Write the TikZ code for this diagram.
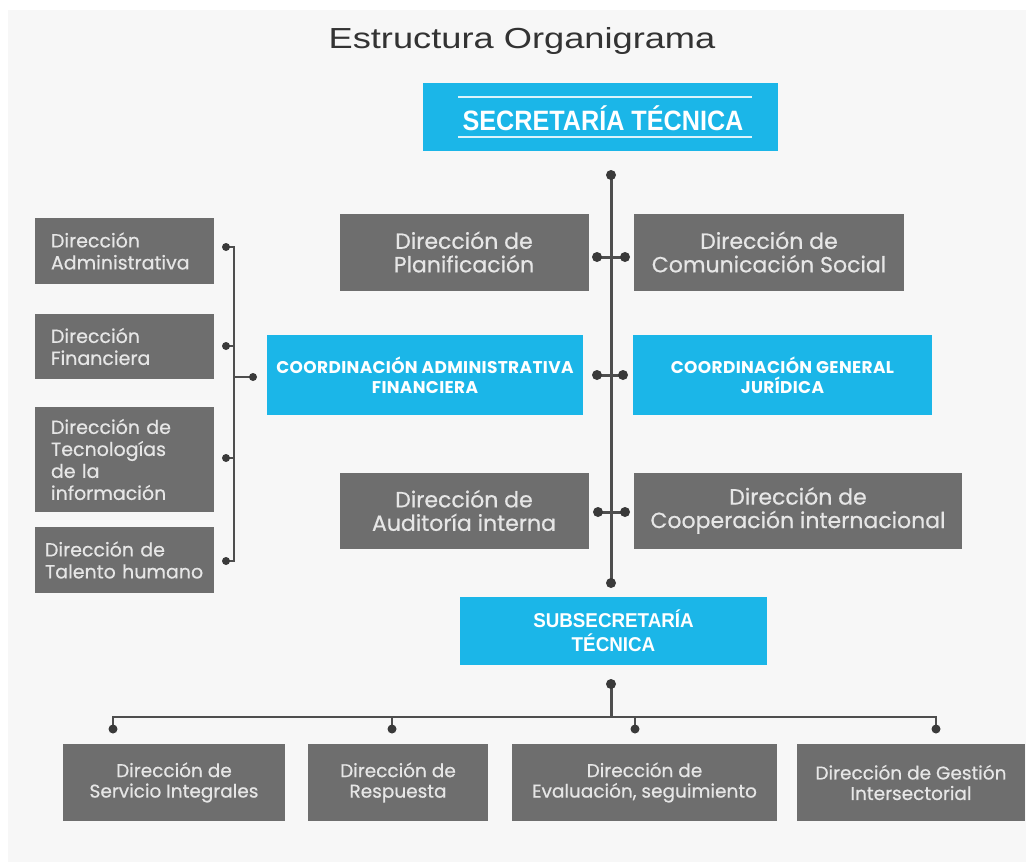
\documentclass[tikz,border=0pt]{standalone}
\usepackage{fontspec}
\usepackage{graphicx}
\newfontfamily\pop{Poppins}[FakeBold=0.6]
\newfontfamily\popb{Poppins}[LetterSpace=2]
\newfontfamily\arl{Liberation Sans}
\definecolor{bgc}{HTML}{F7F7F7}
\definecolor{boxgray}{HTML}{6E6E6E}
\definecolor{boxtext}{HTML}{E6E6E6}
\definecolor{cyanbox}{HTML}{1BB6E8}
\definecolor{linegray}{HTML}{4E4E4E}
\definecolor{dotgray}{HTML}{3A3A3A}
\definecolor{titlec}{HTML}{333333}
\tikzset{
  gbox/.style={fill=boxgray, text=boxtext, inner sep=0pt, align=center, font=\pop\fontsize{22}{23.5}\selectfont},
  lbox/.style={fill=boxgray, text=boxtext, inner ysep=0pt, align=left, font=\pop\fontsize{19}{22}\selectfont, minimum width=179pt},
  sbox/.style={fill=boxgray, text=boxtext, inner sep=0pt, align=center, font=\pop\fontsize{18.5}{20.5}\selectfont, minimum height=77pt},
  bbox/.style={fill=cyanbox, text=white, inner sep=0pt, align=center, font=\popb\bfseries\fontsize{17}{20}\selectfont},
  conn/.style={line width=3pt, draw=linegray},
  brk/.style={line width=2.5pt, draw=linegray},
  dotn/.style={circle, fill=dotgray, inner sep=0pt, minimum size=10pt},
}
\begin{document}
\begin{tikzpicture}[x=1pt,y=-1pt]
\useasboundingbox (0,0) rectangle (1026,865);
\fill[bgc] (8,10) rectangle (1026,862);
% title
\node[text=titlec, font=\arl\fontsize{29}{32}\selectfont] (title) at (522,41) {\scalebox{1.25}[1]{Estructura Organigrama}};
% top box
\node[fill=cyanbox, minimum width=355pt, minimum height=68pt, inner sep=0pt] (sec) at (600.5,117) {};
\draw[white!85!cyanbox, line width=2pt] ([xshift=35pt,yshift=-14pt]sec.north west) coordinate (l1a) -- ([xshift=-26pt,yshift=-14pt]sec.north east) coordinate (l1b);
\draw[white!85!cyanbox, line width=2pt] ([xshift=35pt,yshift=14pt]sec.south west) coordinate (l2a) -- ([xshift=-26pt,yshift=14pt]sec.south east) coordinate (l2b);
\node[text=white, font=\arl\bfseries\fontsize{28}{30}\selectfont] (sectext) at (603,118) {\scalebox{0.9}[1]{SECRETARÍA TÉCNICA}};
% middle boxes
\node[gbox, minimum width=249pt, minimum height=77pt] (plan) at (464,252) {Dirección de\\Planificación};
\node[gbox, minimum width=270pt, minimum height=77pt] (com) at (769,252) {Dirección de\\Comunicación Social};
\node[bbox, minimum width=316pt, minimum height=80pt] (caf) at (425,375) {COORDINACIÓN ADMINISTRATIVA\\FINANCIERA};
\node[bbox, minimum width=299pt, minimum height=80pt] (cgj) at (782.5,375) {COORDINACIÓN GENERAL\\JURÍDICA};
\node[gbox, minimum width=249pt, minimum height=76pt] (aud) at (464,510.5) {Dirección de\\Auditoría interna};
\node[gbox, minimum width=328pt, minimum height=76pt] (coop) at (798,510.5) {Dirección de\\Cooperación internacional};
% trunk
\coordinate (t1) at (611,175);
\coordinate (t2) at (611,583);
\draw[conn] (t1) -- (t2);
\coordinate (r1l) at (597,257); \coordinate (r1r) at (625,257);
\coordinate (r2l) at (597,375); \coordinate (r2r) at (623,375);
\coordinate (r3l) at (598,512); \coordinate (r3r) at (625,512);
\draw[conn] (r1l) -- (r1r);
\draw[conn] (r2l) -- (r2r);
\draw[conn] (r3l) -- (r3r);
\foreach \c in {t1,t2,r1l,r1r,r2l,r2r,r3l,r3r} \node[dotn] (d-\c) at (\c) {};
% left boxes
\node[lbox, minimum height=66pt, text width=147pt, inner xsep=16pt] (adm) at (124.5,251) {Dirección\\Administrativa};
\node[lbox, minimum height=65pt, text width=147pt, inner xsep=16pt] (fin) at (124.5,346.5) {Dirección\\Financiera};
\node[lbox, minimum height=105pt, text width=147pt, inner xsep=16pt] (tec) at (124.5,459.5) {Dirección de\\Tecnologías\\de la\\información};
\node[lbox, minimum height=66pt, text width=159pt, inner xsep=10pt] (tal) at (124.5,560) {Dirección de\\Talento humano};
% bracket
\coordinate (b1) at (226,247); \coordinate (b2) at (226,346);
\coordinate (b3) at (226,458); \coordinate (b4) at (226,561);
\coordinate (v1) at (234,247); \coordinate (v4) at (234,561);
\coordinate (vm) at (234,377); \coordinate (bo) at (253,377);
\draw[brk] (b1) -- (v1) -- (v4) -- (b4);
\draw[brk] (b2) -- (b2 -| v1);
\draw[brk] (b3) -- (b3 -| v1);
\draw[brk] (vm) -- (bo);
\foreach \c in {b1,b2,b3,b4,bo} \node[dotn, minimum size=8pt] (d-\c) at (\c) {};
% subsecretaria
\node[fill=cyanbox, minimum width=307pt, minimum height=68pt, inner sep=0pt, text=white, font=\arl\bfseries\fontsize{20}{24}\selectfont, align=center] (sub) at (613.5,630.5) {\scalebox{0.94}[1]{SUBSECRETARÍA}\\\scalebox{0.94}[1]{TÉCNICA}};
% bottom boxes
\node[sbox, minimum width=222pt] (ser) at (174,782.5) {Dirección de\\Servicio Integrales};
\node[sbox, minimum width=180pt] (res) at (398,782.5) {Dirección de\\Respuesta};
\node[sbox, minimum width=265pt] (eva) at (644.5,782.5) {Dirección de\\Evaluación, seguimiento};
\node[sbox, minimum width=228pt] (ges) at (911,782.5) {Dirección de Gestión\\Intersectorial};
% bottom connectors
\coordinate (s1) at (611,684);
\coordinate (s2) at (611,717);
\coordinate (h1) at (113,717); \coordinate (h4) at (936,717);
\coordinate (e1) at (113,729); \coordinate (e2) at (392,729);
\coordinate (e3) at (635,729); \coordinate (e4) at (936,729);
\draw[conn] (s1) -- (s2);
\draw[brk] (e1) -- (h1) -- (h4) -- (e4);
\draw[brk] (e2) -- (e2 |- h1);
\draw[brk] (e3) -- (e3 |- h1);
\node[dotn] (d-s1) at (s1) {};
\foreach \c in {e1,e2,e3,e4} \node[dotn, minimum size=9pt] (d-\c) at (\c) {};
\end{tikzpicture}
\end{document}
